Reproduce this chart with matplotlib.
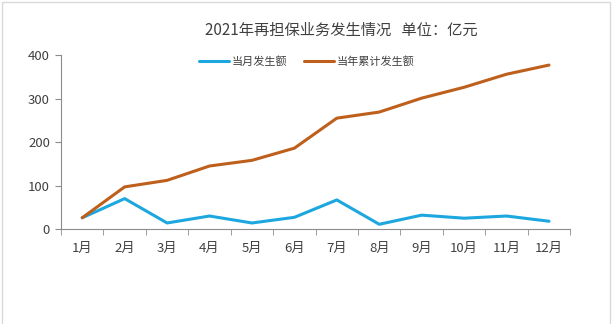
import matplotlib
matplotlib.use("Agg")
import matplotlib.pyplot as plt
import numpy as np

plt.rcParams['font.family'] = ['Noto Sans CJK SC', 'DejaVu Sans']

months = ['1月', '2月', '3月', '4月', '5月', '6月', '7月', '8月', '9月', '10月', '11月', '12月']
monthly = [26, 70, 14, 30, 14, 27, 67, 11, 32, 25, 30, 18]
cumulative = [26, 97, 112, 145, 158, 186, 255, 269, 301, 326, 356, 377]
yticks = [0, 100, 200, 300, 400]

blue = '#1CA7DF'
orange = '#BE5F1C'
gray = '#8C8C8C'
text_c = '#404040'

fig = plt.figure(figsize=(6.12, 3.24), dpi=100)
ax = fig.add_axes([0.0997, 0.293, 0.832, 0.537])

x = np.arange(len(months))
ax.plot(x, monthly, color=blue, lw=2.2, label='当月发生额', solid_capstyle='round', solid_joinstyle='round')
ax.plot(x, cumulative, color=orange, lw=2.2, label='当年累计发生额', solid_capstyle='round', solid_joinstyle='round')

ax.set_xlim(-0.5, len(months) - 0.5)
ax.set_ylim(0, 400)
ax.set_yticks(yticks)
ax.set_xticks(x)
ax.set_xticklabels(months)
ax.set_xticks(np.arange(-0.5, len(months)), minor=True)
ax.tick_params(axis='x', which='major', length=0, pad=9, labelsize=9.5, colors=text_c)
ax.tick_params(axis='x', which='minor', length=4, color=gray, direction='out')
ax.tick_params(axis='y', length=4, color=gray, labelsize=9.5, labelcolor=text_c, pad=4)

for s in ['top', 'right']:
    ax.spines[s].set_visible(False)
for s in ['left', 'bottom']:
    ax.spines[s].set_color(gray)
    ax.spines[s].set_linewidth(0.8)

fig.text(0.557, 0.905, '2021年再担保业务发生情况   单位：亿元', ha='center', va='center',
         fontsize=11, color=text_c)

leg = ax.legend(loc='center', bbox_to_anchor=(0.483, 0.962), ncol=2, frameon=False,
                fontsize=8, handlelength=2.7, columnspacing=1.5, handletextpad=0.25,
                labelcolor=text_c, borderpad=0, borderaxespad=0)

# light frame
frame = plt.Rectangle((0.004, -0.02), 0.992, 1.013, transform=fig.transFigure,
                      fill=False, edgecolor='#D9D9D9', lw=1.0)
fig.patches.append(frame)

fig.savefig('out.png', dpi=100)
